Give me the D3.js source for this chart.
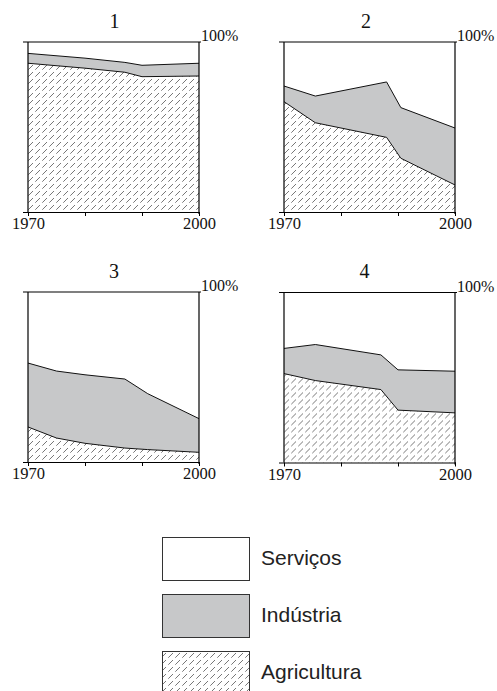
<!DOCTYPE html>
<html><head><meta charset="utf-8">
<script src="https://cdn.jsdelivr.net/npm/d3@7"></script>
<style>
html,body{margin:0;padding:0;background:#fff;}
svg{display:block;}
</style></head>
<body>
<svg id="c" width="497" height="691"></svg>
<script>
// ---------- data ----------
const panelNames = ["1", "2", "3", "4"];
const xTicks = [1970, 1980, 1990, 2000];
const xTickLabels = ["1970", "", "", "2000"];
const topLabel = "100%";

const years1 = [1970, 1980, 1987, 1990, 2000];
const agri1  = [87.5, 84.6, 82.2, 79.6, 80.0];
const ind1   = [5.8, 5.9, 5.8, 6.7, 7.5];

const years2 = [1970, 1975.5, 1988, 1990.5, 2000];
const agri2  = [64.9, 52.5, 43.9, 31.6, 15.9];
const ind2   = [9.2, 15.7, 32.6, 29.8, 33.5];

const years3 = [1970, 1975, 1980, 1987, 1991, 2000];
const agri3  = [20.6, 14.1, 11.0, 8.2, 7.3, 5.7];
const ind3   = [37.6, 39.4, 40.3, 40.6, 32.9, 19.8];

const years4 = [1970, 1975.5, 1987, 1990, 2000];
const agri4  = [52.3, 48.2, 42.9, 30.8, 29.2];
const ind4   = [14.8, 21.2, 20.4, 23.7, 24.5];

const legendLabels = ["Serviços", "Indústria", "Agricultura"];

// ---------- layout ----------
const panelW = 171, panelH = 170;
const layout = [
  {x: 28,  y: 42,  tx: 114.5, ty: 28},
  {x: 284, y: 42,  tx: 366,   ty: 28},
  {x: 28,  y: 292, tx: 114,   ty: 278},
  {x: 284, y: 292.5, tx: 364.5, ty: 278}
];
const series = [
  {years: years1, agri: agri1, ind: ind1},
  {years: years2, agri: agri2, ind: ind2},
  {years: years3, agri: agri3, ind: ind3},
  {years: years4, agri: agri4, ind: ind4}
];
const GRAY = "#c7c8c9";
const serif = "'Liberation Serif','Times New Roman',serif";
const sans = "'Liberation Sans',Arial,sans-serif";

const svg = d3.select("#c");
const defs = svg.append("defs");
const pat = defs.append("pattern").attr("id", "hatch")
  .attr("patternUnits", "userSpaceOnUse").attr("width", 7).attr("height", 7);
pat.append("rect").attr("width", 7).attr("height", 7).attr("fill", "#fff");
pat.append("path").attr("d", "M0.3,6.7L5,2")
  .attr("stroke", "#777").attr("stroke-width", 1).attr("fill", "none");

series.forEach((s, i) => {
  const L = layout[i];
  const g = svg.append("g").attr("transform", `translate(${L.x},${L.y})`);
  const x = d3.scaleLinear().domain([1970, 2000]).range([0, panelW]);
  const y = d3.scaleLinear().domain([0, 100]).range([panelH, 0]);
  const rows = s.years.map((yr, k) => ({yr, a: s.agri[k], t: s.agri[k] + s.ind[k]}));

  g.append("path").datum(rows)
    .attr("d", d3.area().x(d => x(d.yr)).y0(d => y(d.a)).y1(d => y(d.t)))
    .attr("fill", GRAY);
  g.append("path").datum(rows)
    .attr("d", d3.area().x(d => x(d.yr)).y0(y(0)).y1(d => y(d.a)))
    .attr("fill", "url(#hatch)");
  g.append("path").datum(rows)
    .attr("d", d3.line().x(d => x(d.yr)).y(d => y(d.t)))
    .attr("fill", "none").attr("stroke", "#111").attr("stroke-width", 1);
  g.append("path").datum(rows)
    .attr("d", d3.line().x(d => x(d.yr)).y(d => y(d.a)))
    .attr("fill", "none").attr("stroke", "#111").attr("stroke-width", 1);

  // frame
  const fr = g.append("g").attr("stroke", "#000").attr("stroke-width", 1.2).attr("fill", "none");
  fr.append("line").attr("x1", -5).attr("x2", panelW + 2).attr("y1", y(100)).attr("y2", y(100));
  fr.append("line").attr("x1", 0).attr("x2", 0).attr("y1", y(100)).attr("y2", y(0));
  fr.append("line").attr("x1", panelW).attr("x2", panelW).attr("y1", y(100)).attr("y2", y(0) + 2);

  // bottom axis
  const ax = g.append("g").attr("transform", `translate(0,${panelH})`)
    .call(d3.axisBottom(x).tickValues(xTicks).tickSize(4).tickSizeOuter(0)
      .tickFormat((d, k) => xTickLabels[k]));
  ax.attr("font-family", null).attr("font-size", null);
  ax.select(".domain").attr("d", `M-5,0.5H${panelW + 1}`).attr("stroke", "#000").attr("stroke-width", 1.2);
  ax.selectAll(".tick line").attr("stroke", "#000").attr("stroke-width", 1);
  ax.selectAll(".tick text").style("font-family", serif).style("font-size", "16.5px")
    .attr("fill", "#111").attr("dy", 0).attr("y", 17);

  g.append("text").attr("x", panelW + 2).attr("y", y(100) - 1)
    .style("font-family", serif).style("font-size", "16px").attr("fill", "#111").text(topLabel);

  svg.append("text").attr("x", L.tx).attr("y", L.ty).attr("text-anchor", "middle")
    .style("font-family", serif).style("font-size", "20px").attr("fill", "#111").text(panelNames[i]);
});

// legend
const legFills = ["#fff", GRAY, "url(#hatch)"];
const legY = d3.scalePoint().domain(legendLabels).range([537.5, 651.5]);
const lg = svg.append("g");
legendLabels.forEach((lab, k) => {
  lg.append("rect").attr("x", 162.5).attr("y", legY(lab)).attr("width", 87).attr("height", 43)
    .attr("fill", legFills[k]).attr("stroke", "#333").attr("stroke-width", 1);
  lg.append("text").attr("x", 261).attr("y", legY(lab) + 27)
    .style("font-family", sans).style("font-size", "21px").attr("fill", "#222").text(lab);
});
</script>
</body></html>
